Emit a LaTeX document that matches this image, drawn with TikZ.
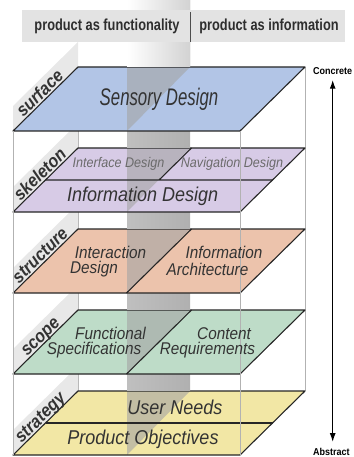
\documentclass[tikz,border=0pt]{standalone}
\usepackage{fontspec}
\newfontfamily\layerfont{Liberation Sans}[FakeStretch=0.9]
\newfontfamily\narrowfont{Liberation Sans}[FakeStretch=0.7]
\newfontfamily\headfont{Liberation Sans}[FakeStretch=0.8]
\usetikzlibrary{positioning,arrows.meta}

\definecolor{surfacecol}{RGB}{178,197,230}
\definecolor{skeletoncol}{RGB}{215,203,230}
\definecolor{structurecol}{RGB}{236,195,172}
\definecolor{scopecol}{RGB}{190,220,200}
\definecolor{strategycol}{RGB}{242,231,165}

\tikzset{
  plane/.style={draw=black!85,line width=1.1pt,line join=round},
  split/.style={draw=black!85,line width=1.1pt},
  wall/.style={left color=gray!50,right color=gray!62},
  topwall/.style={left color=white,right color=gray!35},
  tab/.style={fill=black!9},
  boxline/.style={draw=gray!60,line width=0.8pt},
  tablabel/.style={font=\layerfont\bfseries\itshape\fontsize{18}{18}\selectfont,
    text=black!80,rotate=44.6,anchor=base,inner sep=0pt},
  layerlabel/.style={font=\layerfont\itshape\fontsize{#1}{#1}\selectfont,
    text=black!80,inner sep=0pt},
  headtext/.style={font=\headfont\bfseries\fontsize{16}{16}\selectfont,text=black!82},
  endlabel/.style={font=\layerfont\bfseries\fontsize{10}{10}\selectfont,anchor=west,inner sep=1pt}
}

\begin{document}
\begin{tikzpicture}[x=1pt,y=-1pt]
  \useasboundingbox (0,0) rectangle (353,457);

  % back edges of the box
  \draw[boxline] (78,67) -- (78,391) (305,67) -- (305,391);

  % planes from the bottom up, the wall darkens the part above each one
  \foreach \t/\p/\col in {391/310/strategycol, 310/229/scopecol,
      229/148/structurecol, 148/67/skeletoncol, 67/0/surfacecol}
  {
    \fill[tab] (13,\t+64) -- (78,\t) -- (78,\t-25) -- (13,\t+39) -- cycle;
    \fill[\col] (78,\t) -- (305,\t) -- (240,\t+64) -- (13,\t+64) -- cycle;
    \fill[gray!72!white!60!\col] (127,\t) -- (190,\t) -- (127,\t+64) -- cycle;
    \draw[plane] (78,\t) -- (305,\t) -- (240,\t+64) -- (13,\t+64) -- cycle;
    \shade[wall] (127,\p) rectangle (190,\t-0.6);
  }
  \shade[topwall] (127,0) rectangle (190,66.4);
  \draw[split] (45.5,180) -- (272.5,180) (191.5,148) -- (159,180);
  \draw[split] (191.5,229) -- (126.5,293);
  \draw[split] (191.5,310) -- (126.5,374);
  \draw[split] (45.5,423) -- (272.5,423);

  % front edges
  \draw[boxline] (13,131) -- (13,455) (240,131) -- (240,455);

  \foreach \l/\t in {surface/67, skeleton/148, structure/229, scope/310, strategy/391}
    \node[tablabel] (\l-tab) at (44,\t+30.5) {\l};

  % header
  \fill[black!11] (22,10) rectangle (345,42);
  \node[headtext] (functionality) at (107,26) {product as functionality};
  \node[headtext] (information) at (269,26) {product as information};
  \draw[black!70,line width=1pt] (190,12) -- (190,42);

  % layer contents
  \node[layerlabel=24] (sensory) at (159,99) {\narrowfont Sensory Design};
  \node[layerlabel=14,text=black!58] (interface) at (118.5,164) {Interface Design};
  \node[layerlabel=14,text=black!58] (navigation) at (232,164) {Navigation Design};
  \node[layerlabel=20] (infodesign) at (142.75,196) {Information Design};
  \node[layerlabel=17] (interaction) at (110.5,252.5) {Interaction};
  \node[layerlabel=17] (interactiondesign) at (94,269.5) {Design};
  \node[layerlabel=17] (information) at (224,252.5) {Information};
  \node[layerlabel=17] (architecture) at (207.5,269.5) {Architecture};
  \node[layerlabel=17] (functional) at (110.5,333.5) {Functional};
  \node[layerlabel=17] (specifications) at (94,350.5) {Specifications};
  \node[layerlabel=17] (content) at (224,333.5) {Content};
  \node[layerlabel=17] (requirements) at (207.5,350.5) {Requirements};
  \node[layerlabel=20] (userneeds) at (175,407) {User Needs};
  \node[layerlabel=20] (objectives) at (143,439) {Product Objectives};

  % concrete / abstract scale
  \node[endlabel] (concrete) at (312,71) {Concrete};
  \node[endlabel] (abstract) at (312,452) {Abstract};
  \draw[{Latex[length=9pt,width=6pt]}-{Latex[length=9pt,width=6pt]},line width=1.4pt,
    shorten <=4pt,shorten >=5pt] (concrete.south) -- (concrete.south |- abstract.north);
\end{tikzpicture}
\end{document}
